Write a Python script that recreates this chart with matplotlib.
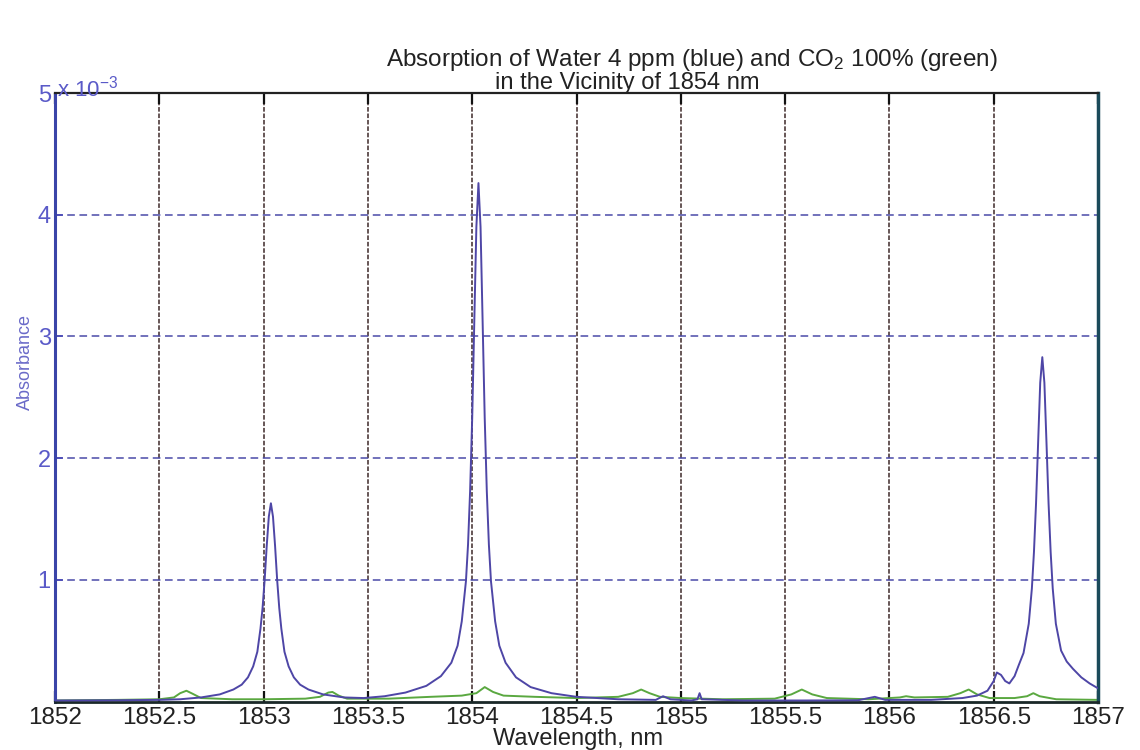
import matplotlib
matplotlib.use("Agg")
import matplotlib.pyplot as plt

plt.rcParams['font.family'] = ['Liberation Sans', 'DejaVu Sans']
plt.rcParams['mathtext.fontset'] = 'custom'
plt.rcParams['mathtext.rm'] = 'Liberation Sans'
plt.rcParams['mathtext.it'] = 'Liberation Sans:italic'

# ---- data (absorbance in units of 1e-3) ----
water_x = [1852.0, 1852.3, 1852.5, 1852.6, 1852.7, 1852.79, 1852.855, 1852.895, 1852.925,
           1852.95, 1852.97, 1852.985, 1852.995, 1853.005, 1853.015, 1853.025, 1853.035,
           1853.045, 1853.055, 1853.065, 1853.075, 1853.085, 1853.10, 1853.12, 1853.145,
           1853.175, 1853.215, 1853.285, 1853.385, 1853.48, 1853.58, 1853.68, 1853.78,
           1853.85, 1853.90, 1853.93, 1853.95, 1853.97, 1853.98, 1853.99, 1854.00, 1854.01,
           1854.02, 1854.03, 1854.04, 1854.05, 1854.06, 1854.07, 1854.08, 1854.09, 1854.11,
           1854.13, 1854.16, 1854.21, 1854.28, 1854.38, 1854.5, 1854.7, 1854.88, 1854.915,
           1854.95, 1855.05, 1855.08, 1855.09, 1855.10, 1855.3, 1855.6, 1855.85, 1855.93,
           1855.98, 1856.2, 1856.35, 1856.42, 1856.47, 1856.5, 1856.515, 1856.535, 1856.555,
           1856.575, 1856.60, 1856.62, 1856.643, 1856.668, 1856.683, 1856.693, 1856.703,
           1856.713, 1856.723, 1856.733, 1856.743, 1856.753, 1856.763, 1856.773, 1856.783,
           1856.798, 1856.823, 1856.85, 1856.88, 1856.92, 1856.96, 1857.0]
water_y = [0.01, 0.012, 0.015, 0.02, 0.035, 0.06, 0.10, 0.14, 0.20,
           0.29, 0.41, 0.60, 0.77, 1.00, 1.28, 1.52, 1.63,
           1.52, 1.28, 1.00, 0.77, 0.60, 0.41, 0.29, 0.20,
           0.14, 0.10, 0.06, 0.035, 0.03, 0.045, 0.075, 0.13,
           0.21, 0.32, 0.46, 0.66, 0.99, 1.29, 1.73, 2.33, 3.12,
           3.90, 4.26, 3.90, 3.12, 2.33, 1.73, 1.29, 0.99, 0.66,
           0.46, 0.32, 0.20, 0.12, 0.07, 0.04, 0.02, 0.015, 0.045,
           0.02, 0.01, 0.02, 0.07, 0.02, 0.01, 0.01, 0.012, 0.04,
           0.015, 0.015, 0.03, 0.05, 0.09, 0.17, 0.24, 0.22, 0.17,
           0.15, 0.21, 0.30, 0.40, 0.64, 0.93, 1.23, 1.63,
           2.13, 2.62, 2.83, 2.62, 2.13, 1.63, 1.23, 0.93,
           0.64, 0.42, 0.33, 0.27, 0.20, 0.15, 0.11]

co2_x = [1852.0, 1852.3, 1852.5, 1852.57, 1852.6, 1852.63, 1852.66, 1852.7, 1852.85,
         1853.0, 1853.2, 1853.27, 1853.31, 1853.33, 1853.36, 1853.4, 1853.6, 1853.8,
         1853.95, 1854.02, 1854.06, 1854.1, 1854.15, 1854.3, 1854.5, 1854.7, 1854.77,
         1854.81, 1854.85, 1854.9, 1855.0, 1855.2, 1855.45, 1855.53, 1855.58, 1855.63,
         1855.7, 1855.9, 1856.05, 1856.08, 1856.12, 1856.28, 1856.34, 1856.38, 1856.42,
         1856.48, 1856.6, 1856.66, 1856.69, 1856.72, 1856.8, 1857.0]
co2_y = [0.01, 0.015, 0.02, 0.035, 0.07, 0.09, 0.065, 0.03, 0.02,
         0.02, 0.025, 0.04, 0.075, 0.08, 0.05, 0.025, 0.025, 0.04,
         0.05, 0.07, 0.12, 0.08, 0.05, 0.04, 0.03, 0.04, 0.07,
         0.10, 0.07, 0.04, 0.03, 0.02, 0.025, 0.06, 0.10, 0.06,
         0.03, 0.02, 0.035, 0.045, 0.035, 0.04, 0.07, 0.10, 0.06,
         0.03, 0.03, 0.045, 0.07, 0.045, 0.02, 0.015]

x_ticks = [1852, 1852.5, 1853, 1853.5, 1854, 1854.5, 1855, 1855.5, 1856, 1856.5, 1857]
x_tick_labels = ['1852', '1852.5', '1853', '1853.5', '1854', '1854.5', '1855',
                 '1855.5', '1856', '1856.5', '1857']
y_ticks = [1, 2, 3, 4, 5]
y_tick_labels = ['1', '2', '3', '4', '5']

# ---- figure ----
W, H = 1140, 750
fig = plt.figure(figsize=(W / 100, H / 100), dpi=100)
fig.patch.set_facecolor('white')
ax = fig.add_axes([55 / W, 1 - 701.7 / H, (1098 - 55) / W, (701.7 - 93) / H])

ax.plot(water_x, water_y, color='#4e46a6', lw=1.4, zorder=3)
ax.plot(co2_x, co2_y, color='#5aa840', lw=1.4, zorder=2)

ax.set_xlim(1852, 1857)
ax.set_ylim(0, 5)

ax.set_xticks(x_ticks)
ax.set_xticklabels(x_tick_labels)
ax.set_yticks(y_ticks)
ax.set_yticklabels(y_tick_labels)

# grid lines
for xv in x_ticks[1:-1]:
    ax.axvline(xv, color='#3d2828', lw=1.1, linestyle=(0, (3, 1.2)), zorder=1)
for yv in y_ticks[:-1]:
    ax.axhline(yv, color='#4a4aa8', lw=1.1, linestyle=(0, (5, 3)), zorder=1)

ax.tick_params(axis='x', direction='in', length=8, width=1.6, colors='#111111',
               labelsize=17.5, pad=4, top=True, labelcolor='#222222')
ax.tick_params(axis='y', direction='in', length=6, width=1.2, colors='#4a4ab8',
               labelsize=17, pad=3, right=False, labelcolor='#5a5ac8')

ax.spines['left'].set_color('#3a44a8')
ax.spines['left'].set_linewidth(2.2)
ax.spines['right'].set_color('#1a4a5a')
ax.spines['right'].set_linewidth(2.5)
ax.spines['top'].set_color('#222222')
ax.spines['top'].set_linewidth(1.6)
ax.spines['bottom'].set_color('#1a2828')
ax.spines['bottom'].set_linewidth(2.0)

# titles and labels
fig.text(692 / W, 1 - 66 / H,
         'Absorption of Water 4 ppm (blue) and CO$_2$ 100% (green)',
         ha='center', va='baseline', fontsize=17.5, color='#222222')
fig.text(627 / W, 1 - 89 / H, 'in the Vicinity of 1854 nm',
         ha='center', va='baseline', fontsize=17, color='#222222')
fig.text(578 / W, 1 - 728 / H, 'Wavelength, nm', ha='center', va='top',
         fontsize=17, color='#222222')
fig.text(25 / W, 1 - 362 / H, 'Absorbance', ha='center', va='center',
         rotation=90, fontsize=13, color='#6a6ac8')
fig.text(57 / W, 1 - 97 / H, r'x 10$^{-3}$', ha='left', va='baseline',
         fontsize=16, color='#5a5ac8')

fig.savefig('out.png', dpi=100, facecolor='white')
